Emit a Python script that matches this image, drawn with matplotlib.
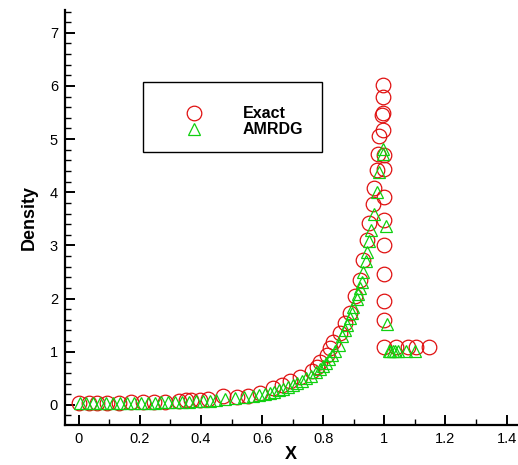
import matplotlib
matplotlib.use("Agg")
import matplotlib.pyplot as plt
from matplotlib.patches import Rectangle
from matplotlib.ticker import MultipleLocator, FixedLocator, FixedFormatter

plt.rcParams['font.family'] = ['Liberation Sans', 'DejaVu Sans']

# ---- data ----
exact_x = [0.000, 0.032, 0.061, 0.092, 0.133, 0.171, 0.211, 0.247, 0.282, 0.329,
           0.351, 0.367, 0.397, 0.424, 0.473, 0.517, 0.555, 0.593, 0.637, 0.664,
           0.691, 0.724, 0.762, 0.778, 0.789, 0.811, 0.822, 0.833, 0.855, 0.871,
           0.887, 0.904, 0.920, 0.929, 0.942, 0.951, 0.964, 0.967, 0.975, 0.980,
           0.983, 0.991, 0.994, 0.996, 0.996, 0.996,
           1.000, 1.000, 1.000, 1.000, 1.000, 1.000, 1.000, 1.000, 1.000,
           1.037, 1.078, 1.103, 1.146]
exact_y = [0.04, 0.04, 0.04, 0.04, 0.04, 0.05, 0.05, 0.05, 0.06, 0.08,
           0.09, 0.09, 0.10, 0.11, 0.17, 0.15, 0.17, 0.22, 0.31, 0.38,
           0.44, 0.53, 0.63, 0.72, 0.80, 0.93, 1.07, 1.19, 1.35, 1.54,
           1.73, 2.04, 2.35, 2.73, 3.11, 3.43, 3.77, 4.08, 4.41, 4.72,
           5.05, 5.45, 5.49, 5.18, 5.79, 6.01,
           4.71, 4.44, 3.92, 3.48, 3.01, 2.46, 1.95, 1.60, 1.08,
           1.08, 1.08, 1.08, 1.08]

amr_x = [0.005, 0.025, 0.045, 0.068, 0.090, 0.112, 0.135, 0.158, 0.180, 0.203,
         0.225, 0.248, 0.270, 0.293, 0.315, 0.338, 0.360, 0.383, 0.405, 0.428,
         0.450, 0.480, 0.510, 0.540, 0.570, 0.590, 0.610, 0.625, 0.640, 0.655,
         0.670, 0.685, 0.700, 0.715, 0.730, 0.745, 0.760, 0.775, 0.790, 0.800,
         0.810, 0.820, 0.830, 0.840, 0.850, 0.860, 0.871, 0.879, 0.888, 0.893,
         0.898, 0.909, 0.915, 0.920, 0.926, 0.931, 0.940, 0.944, 0.950, 0.956,
         0.967, 0.977, 0.983, 0.994, 0.996, 1.004, 1.010,
         1.015, 1.020, 1.028, 1.036, 1.045, 1.070, 1.100]
amr_y = [0.03, 0.03, 0.03, 0.03, 0.03, 0.03, 0.03, 0.04, 0.04, 0.04,
         0.04, 0.04, 0.05, 0.05, 0.05, 0.06, 0.06, 0.07, 0.07, 0.08,
         0.09, 0.11, 0.12, 0.14, 0.16, 0.18, 0.20, 0.22, 0.24, 0.27,
         0.30, 0.33, 0.37, 0.41, 0.45, 0.50, 0.55, 0.61, 0.68, 0.73,
         0.79, 0.86, 0.93, 1.01, 1.12, 1.30, 1.41, 1.51, 1.64, 1.73,
         1.85, 2.00, 2.09, 2.20, 2.31, 2.50, 2.70, 2.87, 3.08, 3.29,
         3.60, 4.00, 4.39, 4.81, 4.72, 3.37, 1.53,
         1.02, 1.02, 1.02, 1.02, 1.02, 1.02, 1.02]

xticks = [0, 0.2, 0.4, 0.6, 0.8, 1.0, 1.2, 1.4]
xtick_labels = ['0', '0.2', '0.4', '0.6', '0.8', '1', '1.2', '1.4']
yticks = [0, 1, 2, 3, 4, 5, 6, 7]
ytick_labels = ['0', '1', '2', '3', '4', '5', '6', '7']

# ---- figure ----
fig = plt.figure(figsize=(5.18, 4.65), dpi=100)
ax = fig.add_axes([0.1255, 0.086, 0.8725, 0.8925])

red = '#e01010'
green = '#10d010'
ax.plot(exact_x, exact_y, linestyle='none', marker='o', markersize=10.5,
        markerfacecolor='none', markeredgecolor=red, markeredgewidth=0.9,
        label='Exact')
ax.plot(amr_x, amr_y, linestyle='none', marker='^', markersize=9,
        markerfacecolor='none', markeredgecolor=green, markeredgewidth=0.9,
        label='AMRDG')

ax.set_xlim(-0.045, 1.434)
ax.set_ylim(-0.38, 7.43)

ax.xaxis.set_major_locator(FixedLocator(xticks))
ax.xaxis.set_major_formatter(FixedFormatter(xtick_labels))
ax.yaxis.set_major_locator(FixedLocator(yticks))
ax.yaxis.set_major_formatter(FixedFormatter(ytick_labels))
ax.xaxis.set_minor_locator(MultipleLocator(0.1))
ax.yaxis.set_minor_locator(MultipleLocator(0.2))

for s in ['top', 'right']:
    ax.spines[s].set_visible(False)
for s in ['left', 'bottom']:
    ax.spines[s].set_linewidth(1.6)

ax.tick_params(which='major', direction='in', length=7.5, width=1.4,
               labelsize=10.5, pad=5)
ax.tick_params(which='minor', direction='in', length=4.2, width=1.0)

ax.set_xlabel('X', fontsize=13, fontweight='bold', labelpad=0)
ax.set_ylabel('Density', fontsize=13, fontweight='bold', labelpad=9)

# legend frame drawn separately so that the content can sit lower in it
frame = Rectangle((0.1726, 0.658), 0.396, 0.1685, transform=ax.transAxes,
                  facecolor='white', edgecolor='black', linewidth=1.0,
                  zorder=4)
ax.add_patch(frame)
leg = ax.legend(loc='upper left', bbox_to_anchor=(0.1726, 0.8145),
                borderaxespad=0, frameon=False, borderpad=1.2,
                handlelength=4.0, handletextpad=1.05, labelspacing=0.07,
                prop={'weight': 'bold', 'size': 11.5})
leg.set_zorder(5)

fig.savefig('out.png', dpi=100)
